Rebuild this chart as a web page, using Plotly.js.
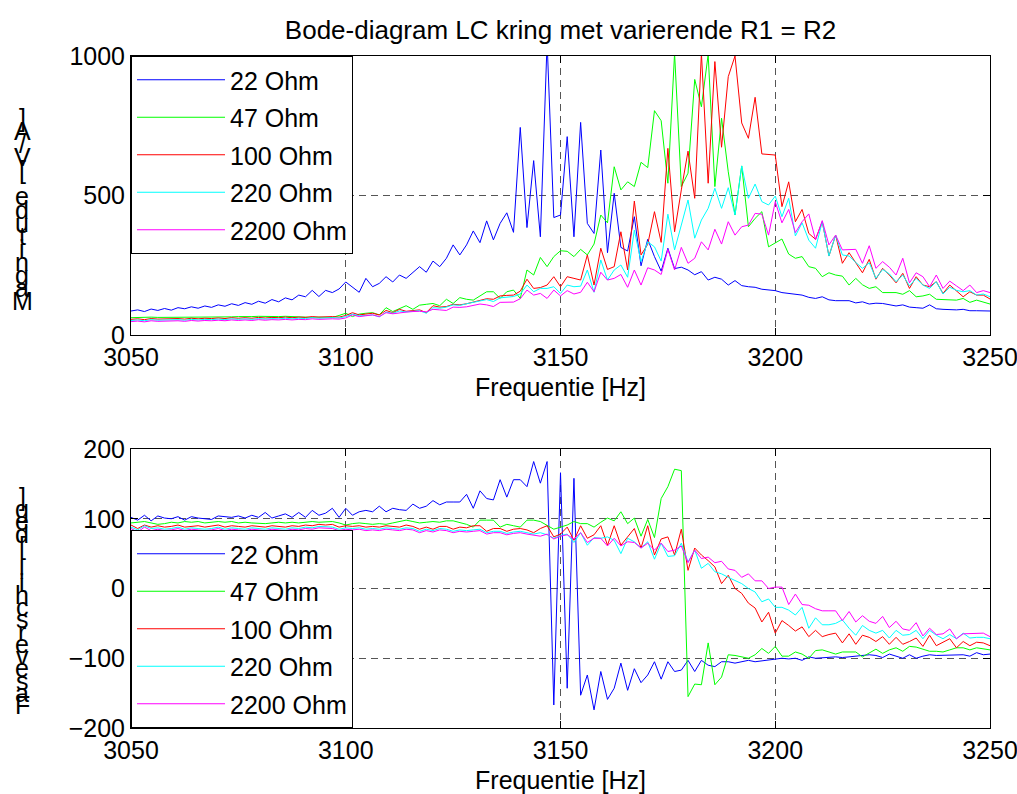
<!DOCTYPE html>
<html>
<head>
<meta charset="utf-8">
<script src="https://cdn.plot.ly/plotly-3.0.1.min.js"></script>
<style>html,body{margin:0;padding:0;background:#fff;}#chart{width:1017px;height:794px;}</style>
</head>
<body>
<div id="chart"></div>
<script>
// Frequency samples [Hz]
const freq = [3050,3051.56,3053.13,3054.69,3056.25,3057.81,3059.38,3060.94,3062.5,3064.06,
3065.63,3067.19,3068.75,3070.31,3071.88,3073.44,3075,3076.56,3078.13,3079.69,
3081.25,3082.81,3084.38,3085.94,3087.5,3089.06,3090.63,3092.19,3093.75,3095.31,
3096.88,3098.44,3100,3101.56,3103.13,3104.69,3106.25,3107.81,3109.38,3110.94,
3112.5,3114.06,3115.63,3117.19,3118.75,3120.31,3121.88,3123.44,3125,3126.56,
3128.13,3129.69,3131.25,3132.81,3134.38,3135.94,3137.5,3139.06,3140.63,3142.19,
3143.75,3145.31,3146.88,3148.44,3150,3151.56,3153.13,3154.69,3156.25,3157.81,
3159.38,3160.94,3162.5,3164.06,3165.63,3167.19,3168.75,3170.31,3171.88,3173.44,
3175,3176.56,3178.13,3179.69,3181.25,3182.81,3184.38,3185.94,3187.5,3189.06,
3190.63,3192.19,3193.75,3195.31,3196.88,3198.44,3200,3201.56,3203.13,3204.69,
3206.25,3207.81,3209.38,3210.94,3212.5,3214.06,3215.63,3217.19,3218.75,3220.31,
3221.88,3223.44,3225,3226.56,3228.13,3229.69,3231.25,3232.81,3234.38,3235.94,
3237.5,3239.06,3240.63,3242.19,3243.75,3245.31,3246.88,3248.44,3250];

const seriesNames = ['22 Ohm','47 Ohm','100 Ohm','220 Ohm','2200 Ohm'];
const seriesColors = ['#0000ff','#00ff00','#ff0000','#00ffff','#ff00ff'];

// Magnitude [V/A]
const mag22 = [86,90,84,93,88,95,89,98,94,101,
96,104,99,108,103,112,106,116,110,121,
114,127,119,133,126,143,137,160,138,160,
152,165,190,170,153,203,173,185,209,190,
215,203,225,245,225,265,245,275,323,287,
323,373,331,409,341,400,438,368,744,385,
625,352,1050,421,430,711,352,762,400,364,
663,295,508,314,301,424,248,343,281,229,
311,238,243,233,216,227,197,207,200,179,
195,177,173,171,164,162,159,152,149,145,
143,135,131,137,126,123,124,123,115,119,
111,114,113,108,104,108,100,98,96,108,
94,92,91,90,92,87,87,87,86];
const mag47 = [62,63,62,64,63,63,64,63,64,63,
64,64,65,64,65,65,66,65,66,67,
66,67,66,67,66,64,64,63,64,63,
63,70,78,66,75,78,80,72,98,84,
95,105,92,107,110,113,105,128,113,134,
128,125,140,155,155,131,155,161,131,233,
215,278,245,281,302,300,281,307,287,326,
430,402,603,520,549,532,619,600,804,768,
544,1010,532,580,916,818,1005,532,777,585,
430,606,388,418,442,316,330,344,290,275,
281,245,239,209,223,215,211,179,203,180,
167,173,152,152,152,146,159,137,140,146,
128,127,125,125,131,117,125,118,111];
const mag100 = [56,58,55,59,57,58,57,59,57,60,
58,60,59,61,59,62,60,62,60,63,
61,63,62,64,62,64,63,66,64,66,
66,64,70,80,72,75,78,72,88,80,
92,85,88,90,80,105,100,102,110,108,
112,118,125,130,128,140,142,143,157,200,
167,170,179,209,173,209,203,197,287,179,
311,235,245,370,233,480,287,325,442,332,
669,370,520,659,490,1010,544,980,673,926,
1000,760,705,852,649,647,645,460,549,406,
450,364,343,406,283,358,257,295,260,223,
271,200,239,215,187,221,167,209,179,173,
191,149,179,158,137,155,143,143,129];
const mag220 = [52,54,51,55,53,54,53,55,53,56,
54,56,55,57,55,58,56,58,56,59,
57,59,58,60,58,60,59,62,60,62,
62,61,66,75,69,70,72,65,82,78,
86,83,86,87,78,98,96,100,108,106,
112,116,122,127,120,133,136,138,147,179,
155,167,167,173,149,179,173,175,233,153,
269,197,233,251,207,376,263,334,316,265,
433,305,394,484,347,412,454,526,454,528,
430,606,490,541,478,466,498,424,490,355,
402,340,311,406,283,358,287,283,260,239,
259,203,235,219,191,215,176,203,179,167,
191,147,171,160,155,159,143,147,137];
const mag2200 = [48,50,47,51,49,50,49,51,49,52,
50,52,51,53,51,54,52,54,52,55,
53,55,54,56,54,56,55,58,56,58,
58,57,61,72,66,69,72,66,80,76,
80,82,84,85,83,92,90,88,100,99,
101,106,111,108,102,117,118,118,130,161,
143,149,131,161,140,159,147,153,189,155,
225,197,203,217,171,233,179,241,233,217,
307,233,314,257,275,334,305,379,326,406,
358,388,394,436,433,358,478,402,450,367,
406,434,341,410,323,358,305,306,307,257,
320,239,263,243,215,275,187,223,209,173,
215,167,193,176,159,179,152,159,152];

// Phase difference [deg]
const ph22 = [102,98,105,97,104,101,100,103,98,103,
101,100,99,104,103,102,104,101,105,102,
109,101,104,107,102,109,102,112,105,108,
115,102,115,105,110,112,110,118,110,115,
113,112,121,115,118,126,120,124,124,124,
135,115,140,129,127,156,131,156,156,146,
182,151,182,-167,166,-143,158,-153,-124,-174,
-119,-159,-143,-107,-146,-115,-135,-124,-105,-130,
-105,-119,-117,-103,-119,-103,-110,-112,-105,-105,
-107,-105,-103,-105,-104,-103,-102,-100,-101,-100,
-103,-98,-100,-99,-99,-98,-99,-98,-98,-97,
-95,-96,-99,-94,-97,-100,-95,-100,-97,-95,
-96,-96,-95,-96,-95,-97,-92,-95,-94];
const ph47 = [94,95,96,94,92,93,95,94,96,95,
96,94,95,96,95,96,94,95,94,93,
93,94,95,94,95,94,95,96,95,96,
96,94,91,93,94,93,92,93,92,94,
96,98,96,94,95,96,95,97,97,95,
92,88,98,98,98,88,92,90,88,98,
98,96,91,85,88,91,96,93,93,88,
95,101,97,110,93,101,75,99,73,129,
146,171,169,-155,-137,-138,-78,-138,-127,-95,
-96,-98,-100,-95,-86,-93,-83,-97,-97,-91,
-94,-100,-89,-88,-91,-94,-91,-91,-91,-98,
-93,-87,-93,-88,-85,-90,-83,-84,-87,-90,
-90,-91,-88,-85,-85,-88,-85,-86,-88];
const ph100 = [91,86,91,88,90,88,89,91,88,89,
90,88,89,91,88,90,89,88,90,89,
88,90,89,88,90,89,91,90,92,91,
92,88,90,89,90,88,89,88,90,89,
88,91,89,85,88,85,89,89,85,88,
87,90,90,82,86,86,82,85,86,84,
80,86,90,74,78,88,69,90,72,77,
90,62,90,62,74,86,58,90,48,71,
74,48,85,26,58,48,40,31,7,19,
0,-7,-21,-28,-48,-34,-64,-46,-53,-61,
-55,-69,-60,-69,-66,-64,-78,-65,-80,-67,
-70,-76,-69,-80,-70,-80,-76,-71,-83,-67,
-82,-77,-72,-85,-76,-82,-77,-78,-82];
const ph220 = [88,84,90,86,87,85,86,88,85,87,
86,85,86,88,85,87,86,85,87,86,
85,87,86,85,87,86,88,87,89,88,
88,85,87,86,87,85,86,85,87,86,
85,87,86,82,85,83,86,85,82,84,
83,84,85,80,82,82,79,81,82,80,
78,80,77,72,76,78,66,80,62,73,
72,74,69,50,72,67,58,67,42,65,
46,47,65,38,55,29,36,24,21,16,
12,7,0,-5,-19,-15,-27,-27,-31,-38,
-27,-57,-42,-52,-52,-50,-45,-57,-67,-53,
-60,-64,-60,-71,-60,-67,-66,-60,-72,-60,
-67,-72,-66,-72,-64,-71,-70,-70,-72];
const ph2200 = [86,81,88,83,85,83,84,86,83,85,
84,83,84,86,83,85,84,83,85,84,
83,85,84,83,85,84,86,85,87,86,
86,83,85,84,85,83,84,83,85,84,
83,85,84,80,83,81,84,83,80,82,
81,82,83,78,80,80,77,79,80,78,
76,75,78,71,75,77,71,80,66,72,
72,61,72,61,67,66,58,65,55,65,
53,55,61,37,55,43,45,37,39,28,
26,16,21,11,11,0,2,2,-23,-8,
-23,-24,-29,-32,-32,-32,-46,-33,-48,-39,
-47,-50,-40,-56,-47,-58,-60,-49,-68,-57,
-66,-65,-58,-72,-65,-65,-64,-64,-69];

const titleText = 'Bode-diagram LC kring met varierende R1 = R2';
const xTitle = 'Frequentie [Hz]';
const yTitleTop = 'Magnitude [V/A]';
const yTitleBottom = 'Faseverschil [deg]';

const magSeries = [mag22, mag47, mag100, mag220, mag2200];
const phSeries = [ph22, ph47, ph100, ph220, ph2200];

const FONT = '"Liberation Sans", Arial, Helvetica, sans-serif';
const FS = 25;

const W = 1017, H = 794;
const M = {l: 131, r: 27, t: 56, b: 66};
const plotW = W - M.l - M.r, plotH = H - M.t - M.b;
const pxToPaperX = px => (px - M.l) / plotW;
const pxToPaperY = py => (H - M.b - py) / plotH;

const traces = [];
magSeries.forEach((ys, k) => traces.push({
  x: freq, y: ys, type: 'scatter', mode: 'lines', name: seriesNames[k],
  line: {color: seriesColors[k], width: 1}, xaxis: 'x', yaxis: 'y',
  legend: 'legend', legendgroup: 'm' + k, hoverinfo: 'skip'
}));
phSeries.forEach((ys, k) => traces.push({
  x: freq, y: ys, type: 'scatter', mode: 'lines', name: seriesNames[k],
  line: {color: seriesColors[k], width: 1}, xaxis: 'x2', yaxis: 'y2',
  legend: 'legend2', legendgroup: 'p' + k, hoverinfo: 'skip'
}));

// MATLAB-style stacked y labels (one character per line, overlapping)
function stackedLabel(text, xPx, yBottomPx, yTopPx) {
  const chars = Array.from(text);
  const n = chars.length;
  const step = (yBottomPx - yTopPx) / (n - 1);
  const out = [];
  chars.forEach((c, k) => {
    if (c === ' ') return;
    out.push({
      text: c, showarrow: false, xref: 'paper', yref: 'paper',
      x: pxToPaperX(xPx), y: pxToPaperY(yBottomPx - k * step),
      xanchor: 'center', yanchor: 'middle',
      font: {family: FONT, size: FS, color: '#000'}
    });
  });
  return out;
}

const axisCommon = {
  showline: true, linecolor: '#000', linewidth: 1, mirror: 'ticks',
  ticks: 'inside', ticklen: 7, tickcolor: '#000', tickwidth: 1,
  showgrid: true, gridcolor: '#555', gridwidth: 1, griddash: '7px,5px',
  zeroline: false, tickfont: {family: FONT, size: FS, color: '#000'},
  ticklabeloverflow: 'allow', fixedrange: true
};
const topDomain = [pxToPaperY(335), 1];
const botDomain = [0, pxToPaperY(449)];

const legendCommon = {
  xref: 'paper', yref: 'paper', x: 0, xanchor: 'left',
  bgcolor: '#fff', bordercolor: '#000', borderwidth: 1,
  font: {family: FONT, size: FS, color: '#000'},
  itemwidth: 88, tracegroupgap: 2, itemclick: false, itemdoubleclick: false
};

const layout = {
  width: W, height: H, margin: M,
  paper_bgcolor: '#fff', plot_bgcolor: '#fff',
  font: {family: FONT, size: FS, color: '#000'},
  showlegend: true,
  title: {text: titleText, x: 0.5, xref: 'paper', y: 1 - 30 / H, yref: 'container',
          yanchor: 'middle', xanchor: 'center', font: {family: FONT, size: 26, color: '#000'}},
  xaxis: Object.assign({}, axisCommon, {anchor: 'y', domain: [0, 1], range: [3050, 3250], dtick: 50, tick0: 3050,
          title: {text: xTitle, standoff: 8, font: {family: FONT, size: FS}}}),
  yaxis: Object.assign({}, axisCommon, {anchor: 'x', domain: topDomain, range: [0, 1000], dtick: 500, tick0: 0}),
  xaxis2: Object.assign({}, axisCommon, {anchor: 'y2', domain: [0, 1], range: [3050, 3250], dtick: 50, tick0: 3050,
          title: {text: xTitle, standoff: 8, font: {family: FONT, size: FS}}}),
  yaxis2: Object.assign({}, axisCommon, {anchor: 'x2', domain: botDomain, range: [-200, 200], dtick: 100, tick0: -200}),
  legend: Object.assign({}, legendCommon, {y: 1, yanchor: 'top'}),
  legend2: Object.assign({}, legendCommon, {y: 0, yanchor: 'bottom'}),
  annotations: stackedLabel(yTitleTop, 22, 301, 118).concat(stackedLabel(yTitleBottom, 22, 705, 497))
};

Plotly.newPlot('chart', traces, layout, {staticPlot: true, displayModeBar: false});
</script>
</body>
</html>
